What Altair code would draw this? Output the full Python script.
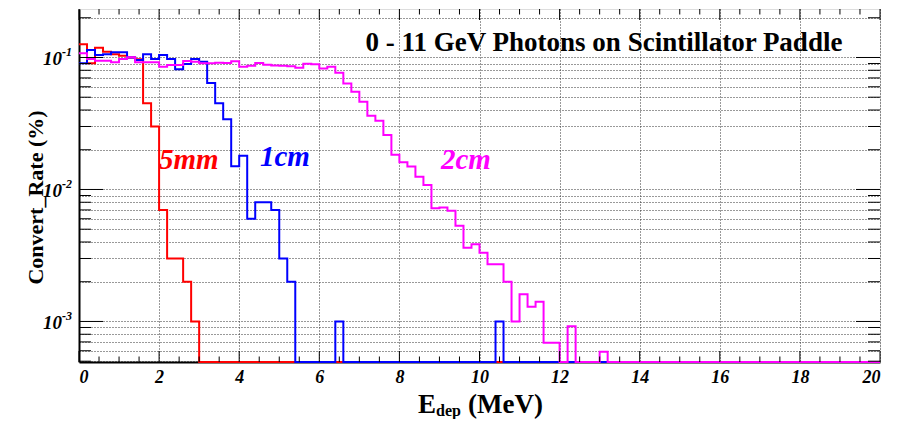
import altair as alt
import pandas as pd

# ---------------- data ----------------
BIN_W = 0.2          # MeV per bin
N_BINS = 100         # 0 - 20 MeV

# 5 mm paddle (red)
rate_5mm = [0.126, 0.0904, 0.1186, 0.1106, 0.106, 0.103, 0.100, 0.097, 0.045, 0.030,
            0.007, 0.003, 0.003, 0.002, 0.001] + [0] * 85

# 1 cm paddle (blue)
rate_1cm = ([0.0904, 0.114, 0.1044, 0.1057, 0.1095, 0.1095, 0.100, 0.0957, 0.106, 0.0974,
             0.1044, 0.0974, 0.0814, 0.0893, 0.0974, 0.093, 0.064, 0.045, 0.034, 0.015,
             0.018, 0.006, 0.008, 0.008, 0.007, 0.003, 0.002]
            + [0] * 5 + [0.001] + [0] * 19 + [0.001] + [0] * 47)

# 2 cm paddle (magenta)
rate_2cm = ([0.1076, 0.0974, 0.0946, 0.0946, 0.0920, 0.0974, 0.1003, 0.0920, 0.0920, 0.0920,
             0.0852, 0.0878, 0.0878, 0.0941, 0.0930, 0.0904, 0.0904, 0.0913, 0.0908, 0.0936,
             0.0852, 0.0867, 0.0908, 0.0880, 0.0870, 0.0867, 0.0860, 0.0837, 0.0898, 0.0890,
             0.0825, 0.0852, 0.0767, 0.0635, 0.0551, 0.0463, 0.0362, 0.0332, 0.0259, 0.0183,
             0.0161, 0.0149, 0.0125, 0.0108, 0.0072, 0.0073, 0.0069, 0.00532, 0.00362, 0.00385,
             0.00332, 0.00271, 0.00271, 0.0020, 0.0010, 0.00161, 0.00129, 0.00141, 0.00069, 0.00069,
             0, 0.00092, 0, 0, 0, 0.00059]
            + [0] * 34)

x_label_values = [0, 2, 4, 6, 8, 10, 12, 14, 16, 18, 20]
x_minor_ticks = [0.5, 1, 1.5, 2.5, 3, 3.5, 4.5, 5, 5.5, 6.5, 7, 7.5, 8.5, 9, 9.5,
                 10.5, 11, 11.5, 12.5, 13, 13.5, 14.5, 15, 15.5, 16.5, 17, 17.5,
                 18.5, 19, 19.5]
y_major = [0.001, 0.01, 0.1]
y_major_exp = ["-3", "-2", "-1"]
y_minor = [0.0005, 0.0006, 0.0007, 0.0008, 0.0009,
           0.002, 0.003, 0.004, 0.005, 0.006, 0.007, 0.008, 0.009,
           0.02, 0.03, 0.04, 0.05, 0.06, 0.07, 0.08, 0.09, 0.2]

labels_text = ["5mm", "1cm", "2cm"]
labels_E = [2.74, 5.14, 9.66]
labels_y = [0.0168, 0.0176, 0.0168]
labels_color = ["#ff0000", "#0000ff", "#ff00ff"]

TITLE = "0 - 11 GeV Photons on Scintillator Paddle"

# ---------------- layout ----------------
W, H = 801, 353
Y_MIN, Y_MAX = 4.93e-4, 0.233
SERIF = "Liberation Serif"

xscale = alt.Scale(domain=[0, 20], nice=False, zero=False)
yscale = alt.Scale(type="log", domain=[Y_MIN, Y_MAX], nice=False, clamp=True)

xaxis = alt.Axis(values=x_label_values, grid=True, gridDash=[1, 2], gridColor="#333",
                 gridWidth=1, ticks=False, domain=True, domainColor="black", domainWidth=2,
                 labelFont=SERIF, labelFontStyle="italic", labelFontWeight="bold",
                 labelFontSize=18, labelColor="black", labelPadding=6, format="d",
                 labelOverlap=False, title=None)
yaxis = alt.Axis(values=sorted(y_major + y_minor), grid=True, gridDash=[1, 2],
                 gridColor="#333", gridWidth=1, ticks=False, domain=True,
                 domainColor="black", domainWidth=2, labels=False,
                 title="Convert_Rate (%)", titleFont=SERIF, titleFontWeight="bold",
                 titleFontSize=22, titleColor="black", titleX=-44, titleY=188,
                 titleAngle=270, titleBaseline="middle", titleAlign="center")

X = alt.X("E:Q", scale=xscale, axis=xaxis)
Y = alt.Y("y:Q", scale=yscale, axis=yaxis)


def hist_df(vals):
    xs = [round(i * BIN_W, 1) for i in range(N_BINS)] + [N_BINS * BIN_W]
    ys = list(vals) + [vals[-1]]
    return pd.DataFrame({"E": xs, "rate": ys})


def hist_layer(vals, color):
    return (alt.Chart(hist_df(vals))
            .transform_calculate(y=f"max(datum.rate, {Y_MIN})")
            .mark_line(interpolate="step-after", color=color, strokeWidth=2)
            .encode(x=X, y=Y))


# grid / axis layer
grid_layer = alt.Chart(pd.DataFrame({"E": [0.0], "y": [0.1]})).mark_point(opacity=0).encode(x=X, y=Y)

# tick marks (inside the frame, mirrored on all four sides)
xmaj = pd.DataFrame({"E": x_label_values})
xmin = pd.DataFrame({"E": x_minor_ticks})
ymaj = pd.DataFrame({"y": y_major, "exp": y_major_exp, "base": ["10"] * 3})
ymin = pd.DataFrame({"y": y_minor})

tick_layers = []
for df, ln in [(xmaj, 11), (xmin, 5.5)]:
    tick_layers.append(alt.Chart(df).mark_rule(color="black", strokeWidth=1).encode(
        x=X, y=alt.value(H), y2=alt.value(H - ln)))
    tick_layers.append(alt.Chart(df).mark_rule(color="black", strokeWidth=1).encode(
        x=X, y=alt.value(0), y2=alt.value(ln)))
for df, ln in [(ymaj, 24), (ymin, 12)]:
    tick_layers.append(alt.Chart(df).mark_rule(color="black", strokeWidth=1).encode(
        y=Y, x=alt.value(0), x2=alt.value(ln)))
    tick_layers.append(alt.Chart(df).mark_rule(color="black", strokeWidth=1).encode(
        y=Y, x=alt.value(W), x2=alt.value(W - ln)))

# y tick labels 10^-n
ylab_base = alt.Chart(ymaj).mark_text(font=SERIF, fontStyle="italic", fontWeight="bold",
                                      fontSize=19, align="right", baseline="middle",
                                      color="black", dy=2).encode(
    y=Y, x=alt.value(-17), text="base:N")
ylab_exp = alt.Chart(ymaj).mark_text(font=SERIF, fontStyle="italic", fontWeight="bold",
                                     fontSize=12, align="left", baseline="middle",
                                     color="black", dy=-5).encode(
    y=Y, x=alt.value(-17), text="exp:N")

# annotations
ann_df = pd.DataFrame({"label": labels_text, "E": labels_E, "y": labels_y, "c": labels_color})
ann = alt.Chart(ann_df).mark_text(font=SERIF, fontStyle="italic", fontWeight="bold",
                                  fontSize=29, align="center", baseline="middle").encode(
    x=X, y=Y, text="label:N", color=alt.Color("c:N", scale=None))

title = alt.Chart(pd.DataFrame({"t": [TITLE]})).mark_text(
    font=SERIF, fontWeight="bold", fontSize=27, align="center", baseline="alphabetic",
    color="black").encode(x=alt.value(525), y=alt.value(42), text="t:N")

xt_E = alt.Chart(pd.DataFrame({"t": ["E"]})).mark_text(
    font=SERIF, fontWeight="bold", fontSize=27, align="left", baseline="alphabetic",
    color="black").encode(x=alt.value(339), y=alt.value(404), text="t:N")
xt_dep = alt.Chart(pd.DataFrame({"t": ["dep"]})).mark_text(
    font=SERIF, fontWeight="bold", fontSize=16, align="left", baseline="alphabetic",
    color="black").encode(x=alt.value(357), y=alt.value(407), text="t:N")
xt_unit = alt.Chart(pd.DataFrame({"t": ["(MeV)"]})).mark_text(
    font=SERIF, fontWeight="bold", fontSize=27, align="left", baseline="alphabetic",
    color="black").encode(x=alt.value(389), y=alt.value(404), text="t:N")

chart = alt.layer(
    grid_layer,
    hist_layer(rate_5mm, "#ff0000"),
    hist_layer(rate_1cm, "#0000ff"),
    hist_layer(rate_2cm, "#ff00ff"),
    *tick_layers,
    ylab_base, ylab_exp,
    ann, title, xt_E, xt_dep, xt_unit,
).properties(
    width=W, height=H,
    padding={"left": 71, "top": 1, "right": 13, "bottom": 57},
    autosize=alt.AutoSizeParams(type="none"),
).configure_view(stroke="black", strokeWidth=1.5).configure(background="white")

chart.save("out.html", embed_options={"renderer": "svg", "actions": False})
